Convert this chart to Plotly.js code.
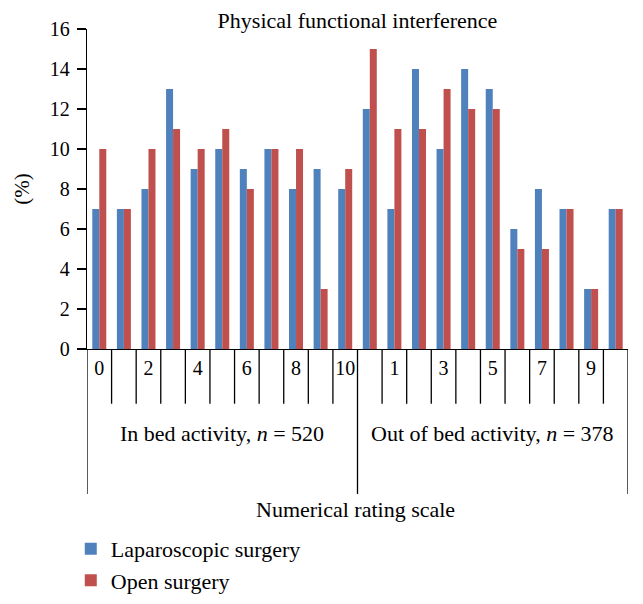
<!DOCTYPE html>
<html>
<head>
<meta charset="utf-8">
<script src="https://cdn.plot.ly/plotly-3.0.1.min.js"></script>
<style>html,body{margin:0;padding:0;background:#fff;}#chart{width:643px;height:604px;}</style>
</head>
<body>
<div id="chart"></div>
<script>
// Rating scale categories (in bed 0-10, then out of bed 0-10)
const categories = ["0","1","2","3","4","5","6","7","8","9","10","0","1","2","3","4","5","6","7","8","9","10"];
const tickLabels = ["0","","2","","4","","6","","8","","10","","1","","3","","5","","7","","9",""];
const groupLabels = ["In bed activity, <i>n</i> = 520", "Out of bed activity, <i>n</i> = 378"];
const groupSizes = [11, 11];
const laparoscopic = [7,7,8,13,9,10,9,10,8,9,8, 12,7,14,10,14,13,6,8,7,3,7];
const openSurgery  = [10,7,10,11,10,11,8,10,10,3,9, 15,11,11,13,12,12,5,5,7,3,7];

const idx = categories.map((_, i) => i);
const serif = "Liberation Serif, Times New Roman, serif";

const traces = [
  {type: "bar", name: "Laparoscopic surgery", x: idx, y: laparoscopic, marker: {color: "#4F81BD"}, hovertext: categories},
  {type: "bar", name: "Open surgery", x: idx, y: openSurgery, marker: {color: "#C0504D"}, hovertext: categories}
];

// divider lines below the axis
const shapes = [];
const n = categories.length;
const groupEdges = [0];
groupSizes.forEach(s => groupEdges.push(groupEdges[groupEdges.length - 1] + s));
for (let b = 0; b <= n; b++) {
  const isGroupEdge = groupEdges.includes(b);
  shapes.push({type: "line", xref: "x", yref: "paper", x0: b - 0.5, x1: b - 0.5, y0: 0, y1: isGroupEdge ? -0.453 : -0.171,
    line: {color: "#000", width: 1.3}});
}

const annotations = groupLabels.map((t, g) => ({
  text: t, xref: "x", yref: "paper", x: (groupEdges[g] + groupEdges[g + 1] - 1) / 2, y: -0.265,
  showarrow: false, font: {family: serif, size: 22, color: "#000"}, xanchor: "center", yanchor: "middle"
}));
annotations.push({text: "Numerical rating scale", xref: "paper", yref: "paper", x: 0.497, y: -0.5,
  showarrow: false, font: {family: serif, size: 22, color: "#000"}, xanchor: "center", yanchor: "middle"});

const layout = {
  width: 643, height: 604,
  margin: {l: 87, r: 15, t: 29, b: 255, autoexpand: false},
  paper_bgcolor: "#fff", plot_bgcolor: "#fff",
  title: {text: "Physical functional interference", font: {family: serif, size: 22, color: "#000"},
    x: 0.556, xanchor: "center", y: 0.966, yanchor: "middle"},
  barmode: "group", bargap: 0.43, bargroupgap: 0,
  xaxis: {range: [-0.5, n - 0.5], tickvals: idx, ticktext: tickLabels, ticks: "", showgrid: false,
    showline: true, linecolor: "#000", linewidth: 1.3, zeroline: false, fixedrange: true,
    tickfont: {family: serif, size: 20, color: "#000"}, ticklabelstandoff: 1},
  yaxis: {range: [0, 16], dtick: 2, ticks: "outside", ticklen: 9, tickwidth: 1.3, tickcolor: "#000",
    showline: true, linecolor: "#000", linewidth: 1.3, showgrid: false, zeroline: false,
    tickfont: {family: serif, size: 20, color: "#000"}, ticklabelstandoff: 3,
    title: {text: "(%)", font: {family: serif, size: 21, color: "#000"}, standoff: 14}},
  showlegend: true,
  legend: {orientation: "v", x: -0.03, xanchor: "left", y: -0.559, yanchor: "top",
    font: {family: serif, size: 22, color: "#000"}, traceorder: "normal", itemsizing: "constant"},
  shapes: shapes, annotations: annotations
};

Plotly.newPlot("chart", traces, layout, {displayModeBar: false, staticPlot: true});
</script>
</body>
</html>
